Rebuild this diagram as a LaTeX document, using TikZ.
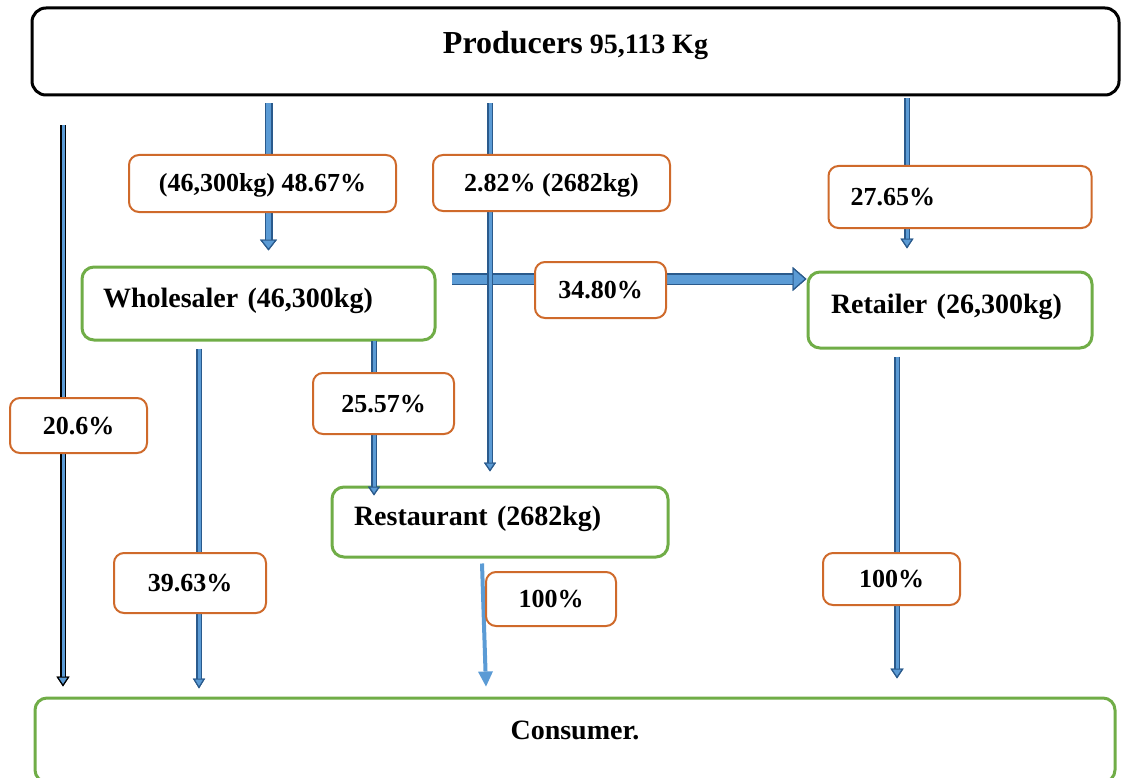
\documentclass[tikz,border=0pt]{standalone}
\usepackage{fontspec}
\setmainfont{Liberation Serif}
\usetikzlibrary{arrows.meta,calc}
\definecolor{stagegreen}{HTML}{70AD47}
\definecolor{shareorange}{HTML}{CF6A2B}
\definecolor{flowfill}{HTML}{5B9BD5}
\definecolor{flowedge}{HTML}{2A5A8C}
\tikzset{
  stage/.style={draw=stagegreen, line width=3pt, rounded corners=12pt, fill=white,
    font=\fontsize{28pt}{32pt}\selectfont\bfseries, text height=20pt, text depth=13pt},
  share/.style={draw=shareorange, line width=2pt, rounded corners=10pt, fill=white,
    font=\fontsize{26pt}{30pt}\selectfont\bfseries, text height=18pt, text depth=1pt},
  flow/.style n args={4}{draw=flowfill, line width=#1,
    -{Triangle[length=#2, width=#3, line width=1.2pt, color=#4, fill=flowfill]},
    preaction={draw=#4, line width=#1+3pt,
      -{Triangle[length=#2, width=#3, line width=1.2pt, color=#4]}}},
  thinflow/.style={draw=flowfill, line width=4pt,
    -{Triangle[length=15pt, width=15pt, line width=0pt, color=flowfill]}}
}
\begin{document}
\begin{tikzpicture}[x=1pt, y=-1pt]
    \useasboundingbox (0,0) rectangle (1121,778);
    \node [draw, line width=3pt, rounded corners=14pt, fill=white, minimum width=1087pt, minimum height=87pt,
      font=\fontsize{28pt}{32pt}\selectfont\bfseries, text height=22pt, text depth=18pt]
      (prod) at (575.5,51.5) {{\fontsize{32pt}{36pt}\selectfont Producers} 95,113 Kg};
    \node [stage, minimum height=73pt, text width=311pt, inner xsep=21pt, align=left] (whole) at (258.5,303.5) {Wholesaler (46,300kg)};
    \node [stage, minimum height=76pt, text width=238pt, inner xsep=23pt, align=left] (ret) at (950,310) {Retailer (26,300kg)};
    \node [stage, minimum height=70pt, text width=292pt, inner xsep=22pt, align=left] (rest) at (500,522) {Restaurant (2682kg)};
    \node [stage, minimum width=1080pt, minimum height=84pt, text height=20pt, text depth=21.5pt] (cons) at (575,740) {Consumer.};
    \coordinate (cw) at (268.5,0);
    \coordinate (cr) at (490,0);
    \coordinate (ct) at (907,0);
    \coordinate (cd) at (63,0);
    \coordinate (cs) at (374,0);
    \coordinate (cc) at (199,0);
    \coordinate (cu) at (897,0);
    \coordinate (ch) at (0,279);
    \draw [flow={9pt}{14pt}{24pt}{flowedge}] ($(whole.east |- ch)+(15,0)$) -- (ret.west |- ch);
    \draw [flow={5pt}{11pt}{17pt}{flowedge}] ($(prod.south -| cw)+(0,7)$) -- ($(whole.north -| cw)+(0,-15)$);
    \draw [flow={3pt}{9pt}{12pt}{flowedge}] ($(prod.south -| cr)+(0,7)$) -- ($(rest.north -| cr)+(0,-14)$);
    \draw [flow={3pt}{10pt}{13pt}{flowedge}] ($(prod.south -| ct)+(0,2)$) -- ($(ret.north -| ct)+(0,-22)$);
    \draw [flow={3pt}{10pt}{13pt}{black}] ($(prod.south -| cd)+(0,29)$) -- ($(cons.north -| cd)+(0,-10)$);
    \draw [flow={3pt}{9pt}{12pt}{flowedge}] ($(whole.south -| cs)+(0,-1)$) -- ($(rest.north -| cs)+(0,10)$);
    \draw [flow={3pt}{10pt}{12pt}{flowedge}] ($(whole.south -| cc)+(0,7)$) -- ($(cons.north -| cc)+(0,-8)$);
    \draw [flow={3pt}{10pt}{13pt}{flowedge}] ($(ret.south -| cu)+(0,7)$) -- ($(cons.north -| cu)+(0,-18)$);
    \draw [thinflow] ($(rest.south)+(-18,5)$) -- ($(cons.north -| rest.south)+(-14,-10)$);
    \node [share, minimum width=267pt, minimum height=57pt] (l4867) at (262.5,183.5) {(46,300kg) 48.67\%};
    \node [share, minimum width=237pt, minimum height=56pt] (l282) at (551.5,183) {2.82\% (2682kg)};
    \node [share, minimum height=62pt, text width=219pt, inner xsep=22pt, align=left] (l2765) at (960,197) {27.65\%};
    \node [share, minimum width=131pt, minimum height=56pt] (l3480) at (600.5,290) {34.80\%};
    \node [share, minimum width=141pt, minimum height=61pt] (l2557) at (383.5,403.5) {25.57\%};
    \node [share, minimum width=137pt, minimum height=55pt] (l206) at (78.5,425.5) {20.6\%};
    \node [share, minimum width=152pt, minimum height=60pt] (l3963) at (190,583) {39.63\%};
    \node [share, minimum width=130pt, minimum height=54pt] (l100r) at (551,599) {100\%};
    \node [share, minimum width=137pt, minimum height=52pt] (l100t) at (891.5,579) {100\%};
\end{tikzpicture}
\end{document}
